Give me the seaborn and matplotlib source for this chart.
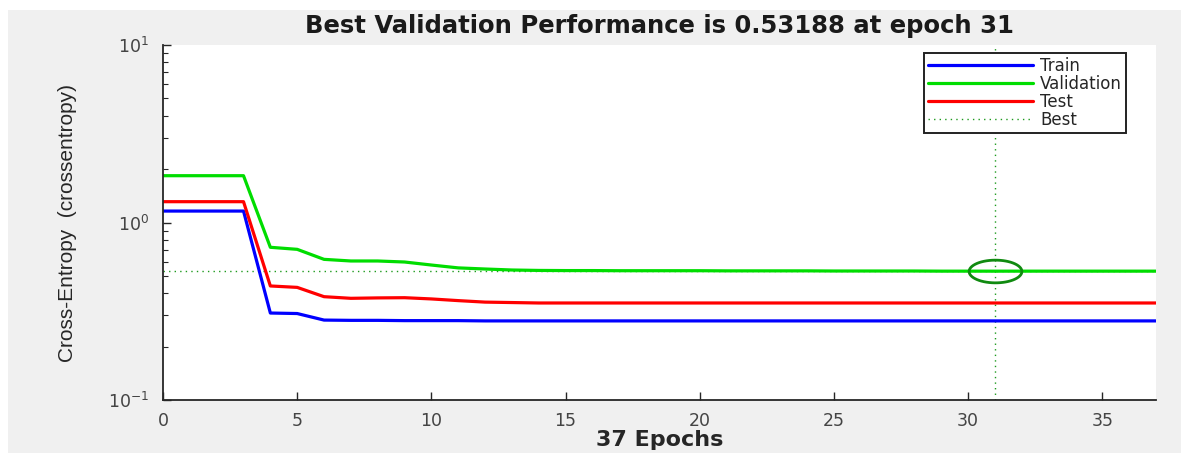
import numpy as np
import pandas as pd
import matplotlib
matplotlib.use("Agg")
import matplotlib.pyplot as plt
import seaborn as sns
from matplotlib.patches import Rectangle
from matplotlib.path import Path
from matplotlib.ticker import LogLocator, NullFormatter

# ---- data ----
epochs = list(range(0, 38))
train = [1.16, 1.16, 1.16, 1.16, 0.309, 0.307, 0.282, 0.281, 0.281, 0.280,
         0.280, 0.280, 0.279, 0.279, 0.279, 0.279, 0.279, 0.279, 0.279, 0.279,
         0.279, 0.279, 0.279, 0.279, 0.279, 0.279, 0.279, 0.279, 0.279, 0.279,
         0.279, 0.279, 0.279, 0.279, 0.279, 0.279, 0.279, 0.279]
validation = [1.835, 1.835, 1.835, 1.835, 0.725, 0.706, 0.620, 0.607, 0.607, 0.599,
              0.576, 0.555, 0.547, 0.540, 0.537, 0.536, 0.536, 0.535, 0.535, 0.535,
              0.535, 0.534, 0.534, 0.534, 0.534, 0.533, 0.533, 0.533, 0.533, 0.532,
              0.532, 0.53188, 0.532, 0.532, 0.532, 0.532, 0.532, 0.532]
test = [1.31, 1.31, 1.31, 1.31, 0.439, 0.431, 0.382, 0.374, 0.376, 0.377,
        0.371, 0.363, 0.356, 0.354, 0.352, 0.352, 0.352, 0.352, 0.352, 0.352,
        0.352, 0.352, 0.352, 0.352, 0.352, 0.352, 0.352, 0.352, 0.352, 0.352,
        0.352, 0.352, 0.352, 0.352, 0.352, 0.352, 0.352, 0.352]
best_epoch = 31
best_value = 0.53188
title_text = "Best Validation Performance is 0.53188 at epoch 31"
xlabel_text = "37 Epochs"
ylabel_text = "Cross-Entropy  (crossentropy)"
xticks = [0, 5, 10, 15, 20, 25, 30, 35]

df = pd.DataFrame({"epoch": epochs, "Train": train, "Validation": validation, "Test": test})

sns.set_theme(style="white")
plt.rcParams["font.family"] = ["DejaVu Sans"]

W, H = 1181, 453
fig = plt.figure(figsize=(W / 100, H / 100), dpi=100, facecolor="white")
fig.patches.append(Rectangle((8 / W, 0), 1 - 8 / W, 1 - 10 / H, transform=fig.transFigure,
                             facecolor="#f0f0f0", edgecolor="none", zorder=-10))
ax = fig.add_axes([163 / W, (H - 400) / H, (1156 - 163) / W, (400 - 45) / H])
ax.set_facecolor("white")

lw = 2.3
sns.lineplot(data=df, x="epoch", y="Train", ax=ax, color="#0000ff", lw=lw, label="Train")
sns.lineplot(data=df, x="epoch", y="Validation", ax=ax, color="#00dd00", lw=lw, label="Validation")
sns.lineplot(data=df, x="epoch", y="Test", ax=ax, color="#ff0000", lw=lw, label="Test")

ax.set_yscale("log")
ax.set_xlim(0, 37)
ax.set_ylim(0.1, 10)

best_col = "#1e9a1e"
ax.axhline(best_value, color=best_col, lw=1.0, ls=(0, (1, 3)), label="Best", zorder=1)
ax.axvline(best_epoch, color=best_col, lw=1.0, ls=(0, (1, 3)), zorder=1)

# ellipse marker at the best point
t = np.linspace(0, 2 * np.pi, 60)
ell = Path(np.column_stack([np.cos(t), 0.43 * np.sin(t)]), closed=True)
ax.plot([best_epoch], [best_value], marker=ell, markersize=38, markerfacecolor="none",
        markeredgecolor="#108a10", markeredgewidth=2.0, linestyle="none", zorder=5)

ax.set_xticks(xticks)
ax.yaxis.set_major_locator(LogLocator(base=10, numticks=5))
ax.yaxis.set_minor_locator(LogLocator(base=10, subs=np.arange(2, 10), numticks=20))
ax.yaxis.set_minor_formatter(NullFormatter())
ax.tick_params(axis="both", which="major", direction="in", length=6, width=1.0,
               colors="#262626", labelsize=12.5, left=True, bottom=True)
ax.tick_params(axis="y", which="minor", direction="in", length=3.5, width=0.8, left=True,
               colors="#262626")
ax.tick_params(axis="x", pad=9)
ax.tick_params(axis="y", pad=10)
for lab in ax.get_xticklabels() + ax.get_yticklabels():
    lab.set_color("#444444")

for s in ["top", "right"]:
    ax.spines[s].set_visible(False)
for s in ["left", "bottom"]:
    ax.spines[s].set_color("#262626")
    ax.spines[s].set_linewidth(1.3)

ax.set_title(title_text, fontsize=17.5, fontweight="bold", color="#1a1a1a", pad=9)
ax.set_xlabel(xlabel_text, fontsize=16, fontweight="bold", color="#262626", labelpad=0)
ax.set_ylabel(ylabel_text, fontsize=15, color="#262626", labelpad=22,
              family=["Liberation Sans", "DejaVu Sans"])

leg = ax.legend(loc="upper right", bbox_to_anchor=((1126 - 163) / 993, (400 - 53) / 355),
                borderaxespad=0, fancybox=False, frameon=True, fontsize=12,
                handlelength=6.3, handletextpad=0.4, labelspacing=0.0, borderpad=0.25)
leg.get_frame().set_edgecolor("#222222")
leg.get_frame().set_linewidth(1.4)
leg.get_frame().set_facecolor("white")
leg.get_frame().set_alpha(1)

fig.savefig("out.png", dpi=100, facecolor=fig.get_facecolor())
